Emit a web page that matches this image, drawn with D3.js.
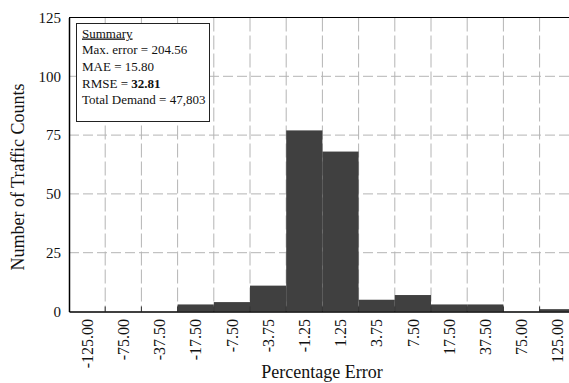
<!DOCTYPE html>
<html>
<head>
<meta charset="utf-8">
<script src="https://cdn.jsdelivr.net/npm/d3@7"></script>
<style>
  html, body { margin: 0; padding: 0; background: #fff; }
  svg { display: block; font-family: "Liberation Serif", "Times New Roman", serif; }
</style>
</head>
<body>
<svg id="chart" width="569" height="383"></svg>
<script>
// Error bins (percentage error) and the number of traffic counts in each
const bins = ["-125.00", "-75.00", "-37.50", "-17.50", "-7.50", "-3.75", "-1.25",
              "1.25", "3.75", "7.50", "17.50", "37.50", "75.00", "125.00"];
const counts = [0, 0, 0, 3, 4, 11, 77, 68, 5, 7, 3, 3, 0, 1];
const yTicks = [0, 25, 50, 75, 100, 125];

// Summary statistics shown in the inset box
const summaryTitle = "Summary";
const summaryLines = [
  { label: "Max. error = ", value: "204.56", bold: false },
  { label: "MAE = ", value: "15.80", bold: false },
  { label: "RMSE = ", value: "32.81", bold: true },
  { label: "Total Demand = ", value: "47,803", bold: false }
];

const svg = d3.select("#chart");
const margin = { left: 69, top: 17.5 };
const bandW = 36.2;
const plotBottom = 311.5;
const plotRight = margin.left + bandW * bins.length;

const x = d3.scaleBand().domain(bins).range([margin.left, plotRight]).padding(0);
const y = d3.scaleLinear().domain([0, 125]).range([plotBottom, margin.top]);

const g = svg.append("g");

// horizontal dashed grid
g.append("g").selectAll("line")
  .data(yTicks.filter(t => t > 0 && t < 125))
  .join("line")
  .attr("x1", margin.left).attr("x2", plotRight)
  .attr("y1", d => y(d)).attr("y2", d => y(d))
  .attr("stroke", "#b4b4b4").attr("stroke-width", 1)
  .attr("stroke-dasharray", "10,4");

// vertical dashed grid at bin boundaries
g.append("g").selectAll("line")
  .data(bins.slice(1))
  .join("line")
  .attr("x1", d => x(d)).attr("x2", d => x(d))
  .attr("y1", margin.top).attr("y2", plotBottom)
  .attr("stroke", "#b4b4b4").attr("stroke-width", 1)
  .attr("stroke-dasharray", "14,4");

// bars
g.append("g").selectAll("rect")
  .data(bins.map((b, i) => ({ b, v: counts[i] })))
  .join("rect")
  .attr("x", d => x(d.b))
  .attr("width", x.bandwidth())
  .attr("y", d => y(d.v))
  .attr("height", d => plotBottom - y(d.v))
  .attr("fill", "#404040");

// small inward ticks on the x axis at bin boundaries
g.append("g").selectAll("line")
  .data(bins.slice(1))
  .join("line")
  .attr("x1", d => x(d)).attr("x2", d => x(d))
  .attr("y1", plotBottom - 5).attr("y2", plotBottom)
  .attr("stroke", "#333").attr("stroke-width", 1);

// top border of the plot frame
g.append("line").attr("x1", margin.left).attr("x2", plotRight)
  .attr("y1", margin.top).attr("y2", margin.top)
  .attr("stroke", "#000").attr("stroke-width", 1.2);

// y axis
const yAxis = g.append("g")
  .attr("transform", `translate(${margin.left},0)`)
  .call(d3.axisLeft(y).tickValues(yTicks).tickSize(0).tickPadding(8).tickFormat(d3.format("d")));
yAxis.select(".domain").attr("stroke", "#000").attr("stroke-width", 1.5);
yAxis.selectAll("text").attr("font-size", 15).attr("fill", "#111")
  .attr("font-family", "Liberation Serif, serif");

// x axis with rotated bin labels
const xAxis = g.append("g")
  .attr("transform", `translate(0,${plotBottom})`)
  .call(d3.axisBottom(x).tickSize(0).tickPadding(5));
xAxis.select(".domain").attr("stroke", "#000").attr("stroke-width", 1.5);
xAxis.selectAll("text")
  .attr("font-size", 16).attr("fill", "#111")
  .attr("font-family", "Liberation Serif, serif")
  .attr("text-anchor", "end")
  .attr("dy", "0.35em")
  .attr("transform", "translate(0,7.5) rotate(-90)")
  .attr("x", 0).attr("y", 0);

// axis titles
svg.append("text")
  .attr("x", 322).attr("y", 377.5)
  .attr("text-anchor", "middle")
  .attr("font-size", 18).attr("fill", "#111")
  .text("Percentage Error");

svg.append("text")
  .attr("transform", "translate(24,177) rotate(-90)")
  .attr("text-anchor", "middle")
  .attr("font-size", 18).attr("fill", "#111")
  .text("Number of Traffic Counts");

// summary box
const box = svg.append("g");
box.append("rect")
  .attr("x", 76.5).attr("y", 23.5).attr("width", 133).attr("height", 98)
  .attr("fill", "#fff").attr("stroke", "#222").attr("stroke-width", 1);

box.append("text")
  .attr("x", 82).attr("y", 37.5)
  .attr("font-size", 13).attr("fill", "#111")
  .attr("text-decoration", "underline")
  .text(summaryTitle);

summaryLines.forEach((d, i) => {
  const t = box.append("text")
    .attr("x", 82).attr("y", 54.2 + i * 16.7)
    .attr("font-size", 13).attr("fill", "#111");
  t.append("tspan").text(d.label);
  t.append("tspan").attr("font-weight", d.bold ? "bold" : "normal").text(d.value);
});
</script>
</body>
</html>
